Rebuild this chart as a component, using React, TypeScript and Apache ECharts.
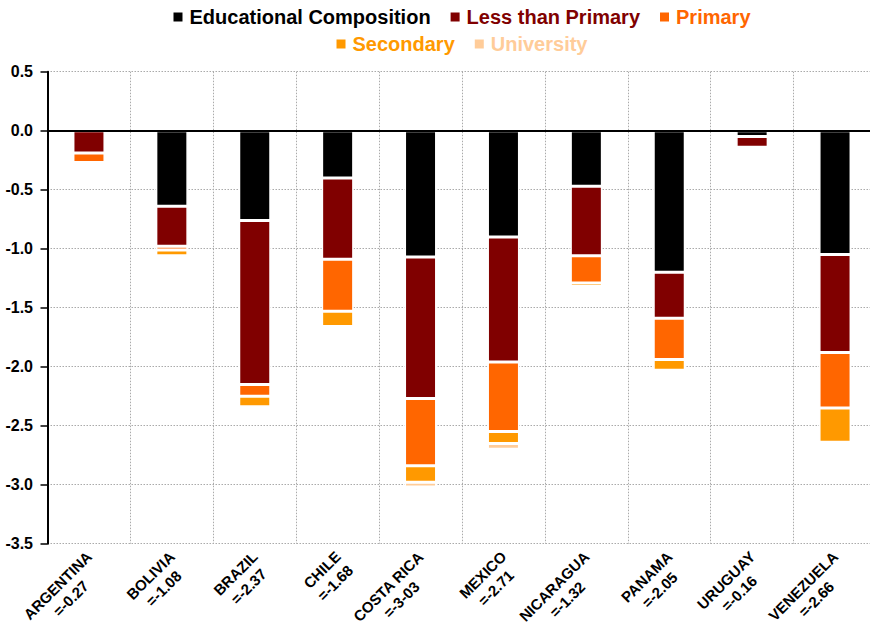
import React, { useEffect, useRef } from "react";
import * as echarts from "echarts";

const countries = [
  "ARGENTINA",
  "BOLIVIA",
  "BRAZIL",
  "CHILE",
  "COSTA RICA",
  "MEXICO",
  "NICARAGUA",
  "PANAMA",
  "URUGUAY",
  "VENEZUELA",
];
const totalLabels = [
  "=-0.27",
  "=-1.08",
  "=-2.37",
  "=-1.68",
  "=-3-03",
  "=-2.71",
  "=-1.32",
  "=-2.05",
  "=-0.16",
  "=-2.66",
];

const educationalComposition = [0, -0.64, -0.76, -0.4, -1.07, -0.9, -0.47, -1.2, -0.05, -1.05];
const lessThanPrimary = [-0.19, -0.34, -1.39, -0.69, -1.2, -1.06, -0.59, -0.39, -0.09, -0.83];
const primary = [-0.08, -0.03, -0.1, -0.44, -0.57, -0.59, -0.23, -0.35, 0, -0.47];
const secondary = [0, -0.05, -0.09, -0.13, -0.14, -0.1, -0.03, -0.09, 0, -0.29];
const university = [0, 0, 0, 0, -0.04, -0.05, 0, 0, -0.025, 0];

const seriesNames = ["Educational Composition", "Less than Primary", "Primary", "Secondary", "University"];
const seriesData = [educationalComposition, lessThanPrimary, primary, secondary, university];
const seriesColors = ["#000000", "#800000", "#FF6600", "#FF9900", "#FFCC99"];

const yTicks = { min: -3.5, max: 0.5, interval: 0.5 };

const FONT = "'Liberation Sans', Arial, Helvetica, sans-serif";

export default function App() {
  const ref = useRef<HTMLDivElement>(null);

  useEffect(() => {
    if (!ref.current) return;
    const chart = echarts.init(ref.current, null, { renderer: "svg" });

    const legendCommon = {
      left: "center",
      icon: "rect",
      itemWidth: 9,
      itemHeight: 9,
      itemGap: 20,
      itemStyle: { borderWidth: 0 },
      textStyle: { fontSize: 20, fontWeight: "bold", fontFamily: FONT, lineHeight: 22, padding: [0, 0, 0, 2] },
    };

    const series = seriesNames.map((name, i) => ({
      name,
      type: "bar",
      stack: "total",
      barWidth: 32,
      data: seriesData[i].map((v) => (v === 0 ? "-" : v)),
      itemStyle: { color: seriesColors[i], borderColor: "#ffffff", borderWidth: 1.5 },
      ...(i === 0
        ? {
            markLine: {
              silent: true,
              symbol: "none",
              label: { show: false },
              lineStyle: { color: "#000", type: "solid", width: 1.8 },
              data: [{ yAxis: 0 }],
              z: 10,
            },
          }
        : {}),
    }));

    chart.setOption({
      animation: false,
      backgroundColor: "#ffffff",
      textStyle: { fontFamily: FONT },
      legend: [
        {
          ...legendCommon,
          top: 1,
          data: seriesNames.slice(0, 3).map((n, i) => ({ name: n, textStyle: { color: seriesColors[i] } })),
        },
        {
          ...legendCommon,
          top: 28,
          data: seriesNames.slice(3).map((n, i) => ({ name: n, textStyle: { color: seriesColors[i + 3] } })),
        },
      ],
      grid: {
        left: 47.5,
        right: 47.5,
        top: 71.7,
        bottom: 87.3,
        containLabel: false,
        outerBoundsMode: "none",
      },
      xAxis: {
        type: "category",
        data: countries,
        axisLine: { show: false, onZero: false },
        axisTick: { show: false },
        splitLine: { show: true, lineStyle: { color: "#aaaaaa", type: [1.5, 1.5], width: 1 } },
        axisLabel: {
          interval: 0,
          rotate: 45,
          margin: 10,
          padding: [19, 0, 0, 0],
          formatter: (v: string, i: number) => `{a|${v}}\n{a|${totalLabels[i]}}`,
          rich: {
            a: {
              align: "center",
              fontSize: 15,
              fontWeight: "bold",
              lineHeight: 18.5,
              color: "#000",
              fontFamily: FONT,
            },
          },
        },
      },
      yAxis: {
        type: "value",
        min: yTicks.min,
        max: yTicks.max,
        interval: yTicks.interval,
        axisLine: { show: true, lineStyle: { color: "#000", width: 2 } },
        axisTick: { show: true, length: 7, lineStyle: { color: "#000", width: 1.5 } },
        splitLine: { show: true, lineStyle: { color: "#aaaaaa", type: [1.5, 1.5], width: 1 } },
        axisLabel: {
          margin: 14.5,
          fontSize: 16,
          fontWeight: "bold",
          color: "#000",
          fontFamily: FONT,
          formatter: (v: number) => v.toFixed(1),
        },
      },
      series,
    });

    return () => chart.dispose();
  }, []);

  return (
    <div
      style={{
        position: "fixed",
        left: 0,
        top: 0,
        width: 870,
        height: 631,
        overflow: "hidden",
        background: "#fff",
      }}
    >
      <div ref={ref} style={{ width: 924, height: 631 }} />
    </div>
  );
}
